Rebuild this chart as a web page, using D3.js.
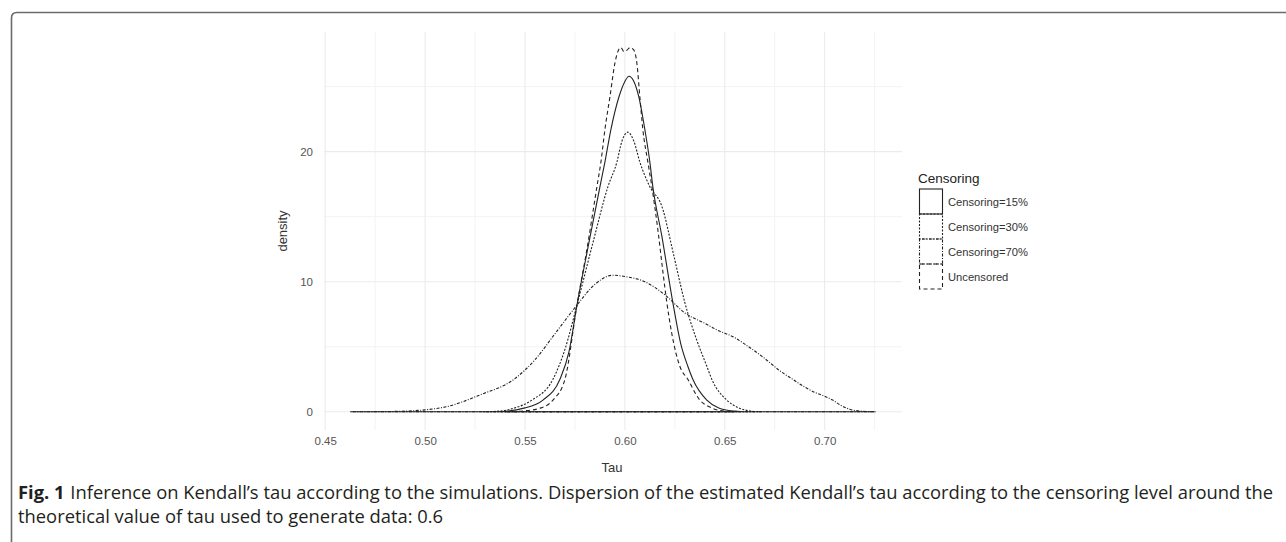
<!DOCTYPE html>
<html><head><meta charset="utf-8">
<script src="https://cdn.jsdelivr.net/npm/d3@7"></script>
<style>
html,body{margin:0;padding:0;background:#fff;}
svg{display:block;}
</style></head>
<body>
<svg id="chart" width="1286" height="542"></svg>
<script>
// ---- data ----
const seriesNames = ["Censoring=15%", "Censoring=30%", "Censoring=70%", "Uncensored"];
const xTicks = [0.45, 0.50, 0.55, 0.60, 0.65, 0.70];
const yTicks = [0, 10, 20];
const cens15 = [[0.463,0],[0.52,0],[0.535,0],[0.55,0.3],[0.559,0.9],[0.5675,2.5],[0.572,4.6],[0.576,8.2],[0.582,13],[0.5875,17.3],[0.590,19.2],[0.593,21.7],[0.597,24.2],[0.6,25.4],[0.602,25.8],[0.6045,25.4],[0.607,24.2],[0.610,21.7],[0.6125,19.2],[0.614,17.3],[0.6185,13.5],[0.624,8.4],[0.628,5.2],[0.6315,3.5],[0.634,2.5],[0.641,0.9],[0.647,0.3],[0.655,0.05],[0.66,0],[0.70,0],[0.725,0]];
const cens30 = [[0.529,0],[0.537,0.05],[0.545,0.3],[0.5535,0.9],[0.564,2.5],[0.570,4.8],[0.576,8.2],[0.584,13],[0.5915,17.3],[0.596,19.2],[0.5985,20.8],[0.6015,21.5],[0.6045,20.8],[0.6075,19.2],[0.6125,17.3],[0.6185,15.8],[0.6245,12],[0.630,8.4],[0.636,5.5],[0.641,3.5],[0.6435,2.5],[0.651,0.9],[0.657,0.3],[0.662,0.08],[0.668,0]];
const cens70 = [[0.4625,0],[0.48,0.02],[0.49,0.05],[0.50,0.15],[0.511,0.4],[0.5275,1.3],[0.5445,2.5],[0.555,4.0],[0.565,6.0],[0.576,8.2],[0.585,9.8],[0.594,10.5],[0.60,10.4],[0.61,10.0],[0.62,9.0],[0.63,7.6],[0.64,6.8],[0.646,6.3],[0.655,5.7],[0.66,5.2],[0.67,4.1],[0.678,3.1],[0.684,2.5],[0.69,1.9],[0.695,1.5],[0.70,1.2],[0.704,0.9],[0.708,0.5],[0.7125,0.2],[0.718,0.05],[0.7255,0]];
const uncens = [[0.54,0],[0.55,0.08],[0.558,0.3],[0.564,0.9],[0.570,2.5],[0.576,8.2],[0.581,12.5],[0.586,17.3],[0.588,19.2],[0.590,21.7],[0.5925,24.2],[0.595,26.8],[0.5965,27.7],[0.598,28.0],[0.5995,27.7],[0.601,27.8],[0.6025,28.0],[0.6045,27.8],[0.606,26.8],[0.6075,24.2],[0.609,21.7],[0.6115,19.2],[0.6135,17.3],[0.6165,14],[0.619,10.8],[0.621,8.4],[0.6235,6],[0.6275,3.5],[0.6315,2.5],[0.6375,0.9],[0.642,0.4],[0.6475,0.1],[0.655,0]];
const seriesData = [cens15, cens30, cens70, uncens];
const dashes = [null, "2,1.5", "1,1.5,3,1.5", "4,3"];
const captionBold = "Fig. 1";
const captionLine1 = "Inference on Kendall\u2019s tau according to the simulations. Dispersion of the estimated Kendall\u2019s tau according to the censoring level around the";
const captionLine2 = "theoretical value of tau used to generate data: 0.6";

const svg = d3.select("#chart");
const sans = "'Liberation Sans', Arial, sans-serif";

// frame
svg.append("path")
  .attr("d", "M11.5,542 L11.5,18 Q11.5,12.5 17,12.5 L1286,12.5")
  .attr("fill","none").attr("stroke","#6b6b6b").attr("stroke-width",1.6);

const panel = {left:324, right:902, top:32, bottom:430};
const x = d3.scaleLinear().domain([0.4494, 0.7387]).range([panel.left, panel.right]);
const y = d3.scaleLinear().domain([-1.4, 29.2]).range([panel.bottom, panel.top]);

const g = svg.append("g");

// minor grid
const xMinor = d3.range(0.475, 0.74, 0.05);
const yMinor = [5, 15, 25];
g.selectAll(".xminor").data(xMinor).enter().append("line")
  .attr("x1", d=>x(d)).attr("x2", d=>x(d)).attr("y1", panel.top).attr("y2", panel.bottom)
  .attr("stroke","#f3f3f3").attr("stroke-width",1);
g.selectAll(".yminor").data(yMinor).enter().append("line")
  .attr("y1", d=>y(d)).attr("y2", d=>y(d)).attr("x1", panel.left).attr("x2", panel.right)
  .attr("stroke","#f3f3f3").attr("stroke-width",1);
// major grid
g.selectAll(".xmajor").data(xTicks).enter().append("line")
  .attr("x1", d=>x(d)).attr("x2", d=>x(d)).attr("y1", panel.top).attr("y2", panel.bottom)
  .attr("stroke","#ebebeb").attr("stroke-width",1.1);
g.selectAll(".ymajor").data(yTicks).enter().append("line")
  .attr("y1", d=>y(d)).attr("y2", d=>y(d)).attr("x1", panel.left).attr("x2", panel.right)
  .attr("stroke","#ebebeb").attr("stroke-width",1.1);

// axes (text only)
const xAxis = d3.axisBottom(x).tickValues(xTicks).tickFormat(d3.format(".2f")).tickSize(0).tickPadding(0);
const xg = svg.append("g").attr("transform", `translate(0,${panel.bottom+7})`).call(xAxis);
xg.select(".domain").remove();
xg.selectAll("text").attr("font-family",sans).attr("font-size",11.5).attr("fill","#555");

const yAxis = d3.axisLeft(y).tickValues(yTicks).tickFormat(d3.format("d")).tickSize(0).tickPadding(0);
const yg = svg.append("g").attr("transform", `translate(${panel.left-11},0)`).call(yAxis);
yg.select(".domain").remove();
yg.selectAll("text").attr("font-family",sans).attr("font-size",11.5).attr("fill","#555");

svg.append("text").attr("x", (panel.left+panel.right)/2 - 1).attr("y", 472)
  .attr("text-anchor","middle").attr("font-family",sans)
  .attr("font-size",13).attr("fill","#333").text("Tau");
svg.append("text").attr("transform", `translate(287,${(panel.top+panel.bottom)/2}) rotate(-90)`)
  .attr("text-anchor","middle").attr("font-family",sans)
  .attr("font-size",13).attr("fill","#333").text("density");

// density curves
const area = d3.area().x(d=>x(d[0])).y0(y(0)).y1(d=>y(d[1])).curve(d3.curveMonotoneX);
seriesData.forEach((s,i)=>{
  g.append("path").attr("d", area(s)).attr("fill","none")
    .attr("stroke","#222").attr("stroke-width",1.1)
    .attr("stroke-dasharray", dashes[i]);
});

// legend
const lg = svg.append("g");
lg.append("text").attr("x",918).attr("y",183).attr("font-family",sans)
  .attr("font-size",13.5).attr("fill","#222").text("Censoring");
seriesNames.forEach((nm,i)=>{
  const ky = 189 + i*25;
  lg.append("rect").attr("x",919.5).attr("y",ky).attr("width",23).attr("height",25)
    .attr("fill","none").attr("stroke","#222").attr("stroke-width",1.1)
    .attr("stroke-dasharray", dashes[i]);
  lg.append("text").attr("x",948).attr("y",ky+17).attr("font-family",sans)
    .attr("font-size",11.2).attr("fill","#333").text(nm);
});

// caption: font size chosen so line 1 fits the reference width
const capFont = "'Open Sans', 'Noto Sans', sans-serif";
let fs = 16;
const tBold = svg.append("text").attr("x",18).attr("y",499)
  .attr("font-family",capFont).attr("font-size",fs).attr("font-weight","bold").attr("fill","#231f20")
  .text(captionBold);
const tRest = svg.append("text").attr("y",499)
  .attr("font-family",capFont).attr("font-size",fs).attr("fill","#231f20")
  .text(captionLine1);
const t2 = svg.append("text").attr("x",18).attr("y",523)
  .attr("font-family",capFont).attr("font-size",fs).attr("fill","#231f20")
  .text(captionLine2);
const wB = tBold.node().getComputedTextLength();
const wR = tRest.node().getComputedTextLength();
const space = fs * 0.26;
const k = 1255 / (wB + space + wR);
fs = fs * k;
tBold.attr("font-size", fs);
tRest.attr("font-size", fs).attr("x", 18 + (wB + space)*k + 1);
t2.attr("font-size", fs);
</script>
</body></html>
